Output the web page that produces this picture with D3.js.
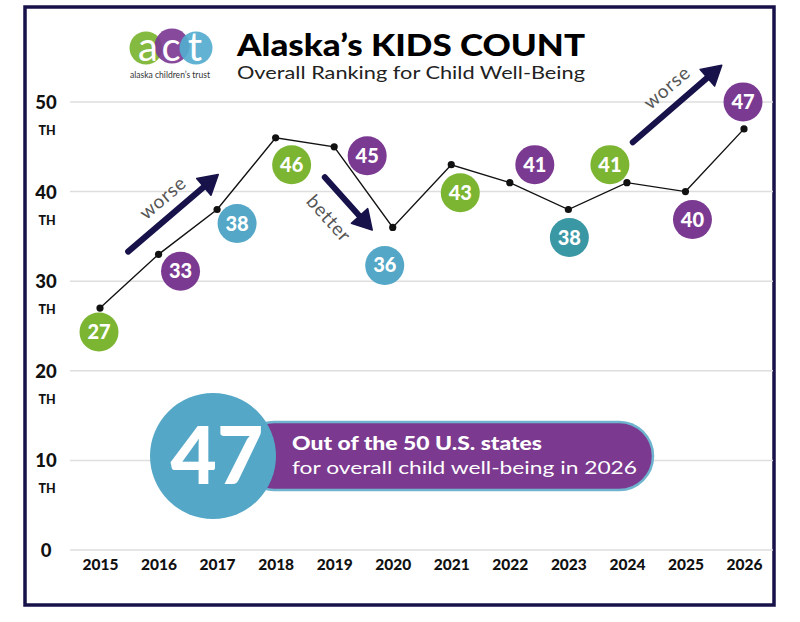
<!DOCTYPE html>
<html><head><meta charset="utf-8">
<script src="https://cdn.jsdelivr.net/npm/d3@7"></script>
<style>
body{margin:0;background:#fff;}
svg{display:block;font-family:Lato,"Open Sans",sans-serif;}
</style></head>
<body><svg id="c" width="800" height="622"></svg>
<script>
// ---- data ----
const years = [2015,2016,2017,2018,2019,2020,2021,2022,2023,2024,2025,2026];
const ranks = [27,33,38,46,45,36,43,41,38,41,40,47];
const badgeColorKeys = ["green","purple","blue","green","purple","blue","green","purple","teal","green","purple","purple"];
const yTicks = [0,10,20,30,40,50];
const yTickSuffix = ["","TH","TH","TH","TH","TH"];
// badge placement relative to each point (layout, px)
const badgeOffsets = [[-1,24],[22,17],[20,14],[16,27],[33,9],[-8,38],[9,28],[25,-18],[1,28],[-17,-18],[7,28],[-1,-27]];
// arrow annotations in data coordinates
const arrowFrom = [[2015.48,33.3],[2018.84,41.6],[2024.10,45.5]];
const arrowTo   = [[2017.02,41.9],[2019.65,35.7],[2025.62,54.1]];
const arrowLabels = ["worse","better","worse"];
const arrowLabelOffsets = [[-11,-16],[-19,14],[-11,-17]];
const calloutRank = 47;
const calloutLine1 = "Out of the 50 U.S. states";
const calloutLine2 = "for overall child well-being in 2026";

const palette = {green:"#7cb532", purple:"#7b3a91", blue:"#54a7c6", teal:"#3a97a4"};
const navy = "#17124a";

const svg = d3.select("#c");
const x = d3.scalePoint().domain(years).range([100,744]);
const xc = d3.scaleLinear().domain([2015,2026]).range([100,744]);
const y = d3.scaleLinear().domain([0,50]).range([550,102]);

// frame
svg.append("rect").attr("x",25).attr("y",7).attr("width",749).attr("height",598)
  .attr("fill","none").attr("stroke",navy).attr("stroke-width",3.5);

// gridlines
svg.append("g").selectAll("line").data(yTicks).join("line")
  .attr("x1",70).attr("x2",773).attr("y1",d=>y(d)).attr("y2",d=>y(d))
  .attr("stroke","#dedede").attr("stroke-width",1.5);

// y labels
const yl = svg.append("g");
yl.selectAll("text.v").data(yTicks).join("text").attr("class","v")
  .attr("x",46).attr("y",d=>y(d)+7).attr("text-anchor","middle")
  .attr("font-size",18.5).attr("font-weight",900).attr("fill","#111").text(d=>d);
yl.selectAll("text.s").data(yTicks.filter((d,i)=>yTickSuffix[i])).join("text").attr("class","s")
  .attr("x",47).attr("y",d=>y(d)+33).attr("text-anchor","middle")
  .attr("font-size",12.5).attr("font-weight",900).attr("fill","#111").text("TH");

// x labels
const xAxis = svg.append("g").attr("transform","translate(0,570)")
  .call(d3.axisBottom(x).tickSize(0).tickPadding(0));
xAxis.select(".domain").remove();
xAxis.selectAll("text").attr("font-size",15.5).attr("font-weight",900).attr("fill","#111")
  .attr("font-family","Lato").attr("dy",0).attr("y",0);

// logo
const logo = svg.append("g");
const logoCircles = [[146,48,16.5,"#7cb532"],[172,46,17.5,"#7d3b95"],[196,48,16.5,"#55acd0"]];
logo.selectAll("circle").data(logoCircles).join("circle")
  .attr("cx",d=>d[0]).attr("cy",d=>d[1]).attr("r",d=>d[2]).attr("fill",d=>d[3]).attr("opacity",0.93);
logo.selectAll("text.l").data(["a","c","t"]).join("text").attr("class","l")
  .attr("x",(d,i)=>[148,171,195][i]).attr("y",61).attr("text-anchor","middle")
  .attr("font-size",40).attr("font-weight",400).attr("fill","#fff").text(d=>d);
logo.append("text").attr("x",170).attr("y",78).attr("text-anchor","middle").attr("font-size",8.5)
  .attr("fill","#333").attr("textLength",80).attr("lengthAdjust","spacingAndGlyphs").text("alaska children’s trust");

// title
svg.append("text").attr("x",237).attr("y",56).attr("font-size",30).attr("font-weight",900)
  .attr("fill","#000").attr("textLength",348).attr("lengthAdjust","spacingAndGlyphs").text("Alaska’s KIDS COUNT");
svg.append("text").attr("x",237).attr("y",79).attr("font-size",18).attr("font-weight",400)
  .attr("fill","#222").attr("textLength",348).attr("lengthAdjust","spacingAndGlyphs").text("Overall Ranking for Child Well-Being");

// arrows
const ag = svg.append("g");
arrowFrom.forEach((f,i)=>{
  const t = arrowTo[i];
  const x1=xc(f[0]), y1=y(f[1]), x2=xc(t[0]), y2=y(t[1]);
  const ang=Math.atan2(y2-y1,x2-x1);
  const hl=19, hw=11;
  const bx=x2-hl*Math.cos(ang), by=y2-hl*Math.sin(ang);
  ag.append("line").attr("x1",x1).attr("y1",y1).attr("x2",bx+2*Math.cos(ang)).attr("y2",by+2*Math.sin(ang))
    .attr("stroke",navy).attr("stroke-width",6).attr("stroke-linecap","round");
  const px=-Math.sin(ang), py=Math.cos(ang);
  ag.append("path").attr("d",`M${x2},${y2}L${bx+hw*px},${by+hw*py}L${bx-hw*px},${by-hw*py}Z`)
    .attr("fill",navy).attr("stroke",navy).attr("stroke-width",1.5).attr("stroke-linejoin","round");
  const mx=(x1+x2)/2 + arrowLabelOffsets[i][0], my=(y1+y2)/2 + arrowLabelOffsets[i][1];
  ag.append("text").attr("text-anchor","middle").attr("dominant-baseline","central")
    .attr("transform",`translate(${mx},${my}) rotate(${ang*180/Math.PI})`)
    .attr("font-size",19).attr("font-weight",400).attr("fill","#555").attr("letter-spacing",0.8)
    .text(arrowLabels[i]);
});

// line + dots
const pts = years.map((yr,i)=>[x(yr), y(ranks[i])]);
svg.append("path").attr("d",d3.line()(pts)).attr("fill","none").attr("stroke","#111").attr("stroke-width",1.4);
svg.append("g").selectAll("circle").data(pts).join("circle")
  .attr("cx",d=>d[0]).attr("cy",d=>d[1]).attr("r",3.6).attr("fill","#111");

// badges
const bg = svg.append("g").selectAll("g").data(years).join("g")
  .attr("transform",(d,i)=>`translate(${x(d)+badgeOffsets[i][0]},${y(ranks[i])+badgeOffsets[i][1]})`);
bg.append("circle").attr("r",19.5).attr("fill",(d,i)=>palette[badgeColorKeys[i]]);
bg.append("text").attr("text-anchor","middle").attr("y",7).attr("font-size",20).attr("font-weight",900)
  .attr("fill","#fff").text((d,i)=>ranks[i]);

// callout
const cg = svg.append("g");
cg.append("rect").attr("x",240).attr("y",422).attr("width",413).attr("height",68).attr("rx",34)
  .attr("fill","#7b3a8f").attr("stroke","#6fb4cf").attr("stroke-width",2.5);
cg.append("circle").attr("cx",213).attr("cy",456).attr("r",63).attr("fill","#54a7c6");
cg.append("text").attr("x",217).attr("y",484).attr("text-anchor","middle").attr("font-size",80)
  .attr("font-weight",900).attr("fill","#fff").text(calloutRank);
cg.append("text").attr("x",292).attr("y",450).attr("font-size",18).attr("font-weight",900)
  .attr("fill","#fff").attr("textLength",250).attr("lengthAdjust","spacingAndGlyphs").text(calloutLine1);
cg.append("text").attr("x",292).attr("y",474).attr("font-size",18).attr("font-weight",400)
  .attr("fill","#fff").attr("textLength",345).attr("lengthAdjust","spacingAndGlyphs").text(calloutLine2);
</script></body></html>
